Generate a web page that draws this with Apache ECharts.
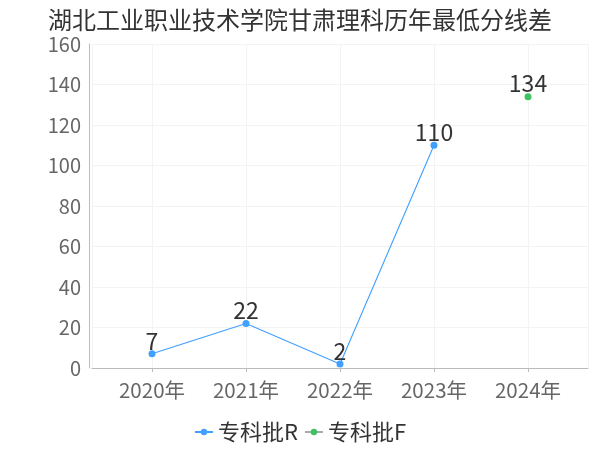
<!DOCTYPE html>
<html>
<head>
<meta charset="utf-8">
<script src="https://cdn.jsdelivr.net/npm/echarts@6/dist/echarts.min.js"></script>
<style>html,body{margin:0;padding:0;background:#fff}#c{width:600px;height:450px}</style>
</head>
<body>
<div id="c"></div>
<script>
var titleText = '湖北工业职业技术学院甘肃理科历年最低分线差';
var years = [2020, 2021, 2022, 2023, 2024];
var seriesNames = ['专科批R', '专科批F'];
var valuesR = [7, 22, 2, 110, null];
var valuesF = [null, null, null, null, 134];
var yTicks = [0, 20, 40, 60, 80, 100, 120, 140, 160];

var font = '"Noto Sans CJK SC", "Noto Sans", sans-serif';
function pairs(vals) {
  var out = [];
  for (var i = 0; i < years.length; i++) {
    if (vals[i] !== null) out.push([years[i], vals[i]]);
  }
  return out;
}
var chart = echarts.init(document.getElementById('c'));
chart.setOption({
  animation: false,
  textStyle: { fontFamily: font },
  title: {
    text: titleText, left: 'center', top: 3,
    textStyle: { fontSize: 24, fontWeight: 'normal', color: '#333', fontFamily: font }
  },
  legend: {
    bottom: 2, left: 'center', itemWidth: 18, itemHeight: 8, itemGap: 6,
    textStyle: { fontSize: 22, color: '#333', fontFamily: font },
    data: seriesNames
  },
  grid: { left: 92, right: 12, top: 44, bottom: 82 },
  xAxis: {
    type: 'value',
    min: years[0] - 60 / 94,
    max: years[years.length - 1] + 60 / 94,
    splitNumber: 5,
    offset: 4,
    axisLine: { show: true, lineStyle: { color: '#bbb' } },
    axisTick: { show: true, length: 4, lineStyle: { color: '#bbb' } },
    axisLabel: {
      showMinLabel: false, showMaxLabel: false,
      fontSize: 20.5, color: '#666', margin: 8, fontFamily: font,
      formatter: function (v) { return years.indexOf(Math.round(v)) >= 0 && Math.abs(v - Math.round(v)) < 1e-6 ? Math.round(v) + '年' : ''; }
    },
    splitLine: { show: true, lineStyle: { color: '#f3f3f3' } }
  },
  yAxis: {
    type: 'value', min: yTicks[0], max: yTicks[yTicks.length - 1], interval: 20,
    offset: 3,
    axisLine: { show: true, lineStyle: { color: '#bbb' } },
    axisTick: { show: false },
    axisLabel: { fontSize: 20, color: '#666', margin: 8, fontFamily: font },
    splitLine: { show: true, lineStyle: { color: '#f3f3f3' } }
  },
  series: [
    {
      name: seriesNames[0], type: 'line', data: pairs(valuesR),
      color: '#3fa0ff', symbol: 'circle', symbolSize: 7,
      lineStyle: { width: 1.1 },
      label: { show: true, position: 'top', distance: -2, fontSize: 23, color: '#333', fontFamily: font }
    },
    {
      name: seriesNames[1], type: 'line', data: pairs(valuesF),
      color: '#3cc35f', symbol: 'circle', symbolSize: 7,
      lineStyle: { width: 1.1, color: '#aaa' },
      label: { show: true, position: 'top', distance: -2, fontSize: 23, color: '#333', fontFamily: font }
    }
  ]
});
</script>
</body>
</html>
